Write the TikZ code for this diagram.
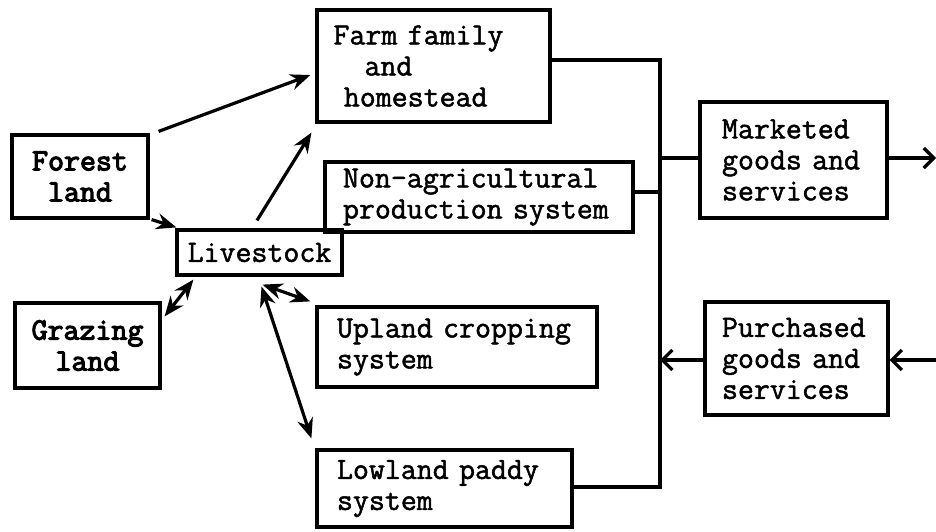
\documentclass[tikz,border=0pt]{standalone}
\usepackage{fontspec}
\setmonofont{Latin Modern Mono}[UprightFeatures={FakeBold=1.6}, BoldFont={Latin Modern Mono}, BoldFeatures={FakeBold=3.6}]
\usetikzlibrary{arrows.meta}
\begin{document}
\begin{tikzpicture}[x=1pt,y=-1pt,
  box/.style={draw, line width=3.2pt, inner sep=0pt, font=\fontsize{31}{31}\selectfont\ttfamily},
  lbox/.style={box, align=left},
  cbox/.style={box, align=center, font=\fontsize{31}{31}\selectfont\ttfamily\bfseries},
  conn/.style={line width=3.2pt},
  arr/.style={conn, -{Stealth[length=20pt,width=16pt]}},
  darr/.style={conn, {Stealth[length=20pt,width=16pt]}-{Stealth[length=20pt,width=16pt]}},
  barb/.style={conn, -{Straight Barb[length=10pt,width=20pt,line width=3.2pt]}}
]
\useasboundingbox (0,0) rectangle (936,531);

\node[lbox, minimum width=233pt, minimum height=112pt, text width=200pt] (farm) at (433.5,66) {Farm~family\\~~~and\\~homestead};
\node[cbox, minimum width=136pt, minimum height=83pt] (forest) at (80,176.5) {Forest\\land};
\node[box, minimum width=165pt, minimum height=45pt] (livestock) at (259.5,252.5) {Livestock};
\node[lbox, minimum width=308pt, minimum height=70pt, text width=272pt] (nonagri) at (479,197) {Non-agricultural\\production~system};
\node[cbox, minimum width=145pt, minimum height=85pt] (grazing) at (87.5,345.5) {Grazing\\land};
\node[lbox, minimum width=280pt, minimum height=80pt, text width=240pt] (upland) at (457,347) {Upland~cropping\\system};
\node[lbox, minimum width=255pt, minimum height=77pt, text width=215pt] (lowland) at (444.5,488.5) {Lowland~paddy\\system};
\node[lbox, minimum width=187pt, minimum height=116pt, text width=143pt] (marketed) at (793.5,160) {Marketed\\goods~and\\services};
\node[lbox, minimum width=183pt, minimum height=113pt, text width=149pt] (purchased) at (796.5,358.5) {Purchased\\goods~and\\services};

\coordinate (btop) at (660,60);
\coordinate (bna) at (660,192);
\coordinate (bmk) at (660,158);
\coordinate (bpu) at (660,360);
\coordinate (bbot) at (660,487);
\coordinate (mout) at (936,158);
\coordinate (pin) at (936,360);

% bus
\draw[conn] (farm.east |- btop) -- (btop) -- (bbot) -- (lowland.east |- bbot);
\draw[conn] (nonagri.east |- bna) -- (bna);
\draw[conn] (bmk) -- (marketed.west |- bmk);
\draw[barb] (marketed.east |- mout) -- (mout);
\draw[barb] (purchased.west |- bpu) -- (bpu);
\draw[barb] (pin) -- (purchased.east |- pin);

% arrows
\draw[arr] ([xshift=9pt,yshift=2pt]forest.north east) -- ([xshift=-5pt,yshift=-9pt]farm.west);
\draw[arr] ([xshift=2pt]forest.south east) -- ([xshift=1pt,yshift=1pt]livestock.north west);
\draw[arr] ([xshift=-2.5pt,yshift=8pt]livestock.north) -- ([xshift=-4pt,yshift=-9pt]farm.south west);
\draw[darr] ([xshift=3pt,yshift=-15pt]grazing.north east) -- ([xshift=18pt,yshift=-3pt]livestock.south west);
\draw[darr] ([xshift=3pt,yshift=-8pt]livestock.south) -- ([xshift=-5pt,yshift=4pt]upland.north west);
\draw[darr] ([xshift=2pt,yshift=-10pt]livestock.south) -- ([xshift=-4pt,yshift=10pt]lowland.north west);
\end{tikzpicture}
\end{document}
